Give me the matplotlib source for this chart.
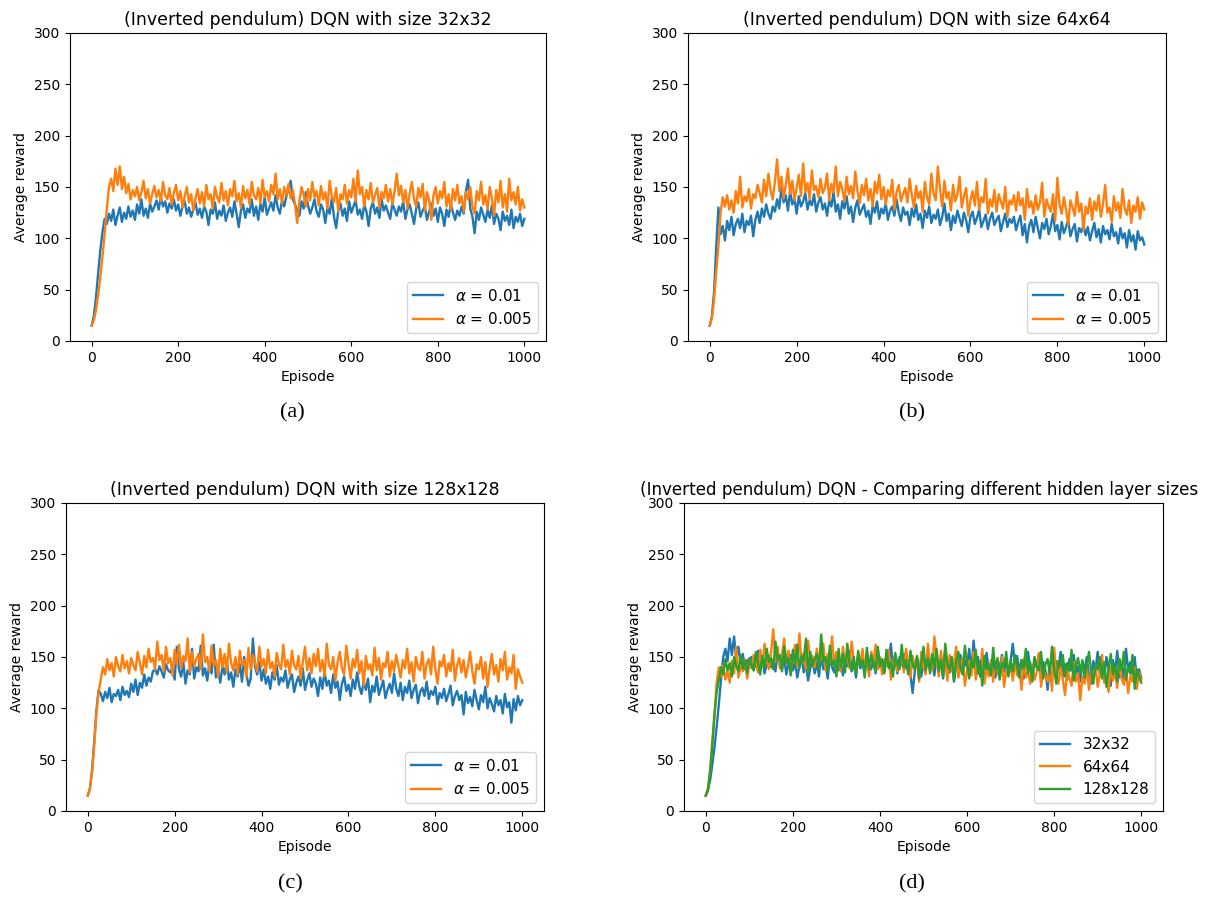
import matplotlib
matplotlib.use("Agg")
import matplotlib.pyplot as plt
import numpy as np

# Average reward every 5 episodes

# 32x32, alpha = 0.01
a_blue = [15, 24, 42, 66, 88, 106, 119,
          114, 124, 117, 128, 113, 122, 130, 116, 125, 119, 131, 121, 127, 118,
          133, 124, 138, 122, 129, 120, 134, 126, 131, 137,
          128, 140, 131, 136, 125, 134, 129, 138, 127, 133, 122, 131, 136, 124, 130, 121, 128, 135, 123, 129,
          120, 131, 126, 113, 128, 124, 135, 119, 127, 122, 132, 117, 125, 130, 121, 136, 124, 111, 127, 133,
          120, 129, 125, 138, 122, 131, 118, 134, 126, 140, 123, 129, 135, 127, 142, 130, 124, 137, 131, 141,
          148, 156, 138, 133, 127, 122, 136, 129, 145, 132, 124, 130, 138, 126,
          121, 133, 128, 115, 130, 124, 139, 121, 110, 127, 134, 122, 129, 117, 136, 125, 131, 137,
          123, 128, 119, 133, 126, 112, 129, 135, 124, 130, 120, 138, 127, 132, 125, 119, 134, 128,
          122, 131, 126, 136, 119, 128, 133, 124, 114, 129, 135, 121, 127, 131, 118, 126,
          134, 122, 129, 116, 130, 124, 112, 128, 121, 133, 125, 118, 127, 122, 131, 124,
          146, 157, 129, 121, 105, 126, 118, 130, 123, 116, 128, 120, 132, 114,
          124, 119, 108, 126, 117, 122, 113, 128, 110, 121, 116, 124, 112, 119]

# 32x32, alpha = 0.005
a_orange = [15, 20, 30, 45, 62, 82, 104,
            128, 150, 158, 146, 168, 152, 170, 148, 160, 144, 153, 138, 147, 141,
            150, 137, 145, 156, 139, 148, 134, 143, 151, 140,
            147, 136, 155, 142, 138, 149, 133, 144, 152, 137, 146, 130, 141, 150, 135, 143, 127, 139, 148, 134,
            145, 131, 152, 138, 143, 129, 150, 140, 135, 154, 137, 146, 132, 148, 141, 156, 136, 144, 130, 151,
            139, 147, 133, 155, 142, 138, 149, 134, 157, 140, 146, 136, 152, 143, 163, 138, 148, 134, 150, 142,
            153, 139, 147, 133, 115, 136, 150, 142, 131, 148, 137, 155, 140, 146,
            132, 151, 138, 145, 129, 156, 141, 135, 149, 126, 143, 138, 152, 134, 147, 140, 158, 136,
            166, 143, 150, 131, 147, 138, 154, 135, 142, 149, 130, 145, 139, 152, 136, 148, 133, 146,
            163, 142, 151, 135, 147, 129, 144, 155, 138, 131, 149, 140, 153, 127, 145, 137,
            118, 142, 150, 134, 146, 139, 155, 131, 143, 128, 148, 137, 152, 134, 141, 126,
            145, 138, 150, 131, 124, 146, 137, 155, 133, 142, 128, 150, 139, 122,
            147, 135, 156, 130, 143, 126, 158, 137, 145, 133, 150, 127, 138, 130]

# 64x64, alpha = 0.01
b_blue = [15, 24, 48, 92, 130, 104, 112,
          98, 117, 108, 121, 103, 114, 119, 110, 124, 106, 117, 113, 122, 102,
          118, 126, 115, 129, 121, 133, 124, 119, 131, 126,
          138, 129, 150, 135, 142, 127, 146, 133, 139, 124, 141, 131, 136, 144, 128, 137, 132, 143, 126, 135,
          140, 128, 134, 122, 137, 131, 145, 126, 133, 119, 136, 129, 141, 124, 131, 116, 130, 137, 123, 128,
          133, 121, 127, 114, 132, 125, 136, 119, 129, 124, 134, 118, 127, 131, 122, 138, 125, 117, 130, 123,
          126, 113, 129, 121, 133, 118, 124, 110, 127, 120, 131, 115, 123, 119,
          128, 113, 121, 134, 117, 124, 108, 122, 115, 127, 119, 112, 125, 118, 106, 121, 126, 114,
          120, 128, 111, 117, 123, 109, 119, 125, 113, 118, 122, 107, 116, 124, 111, 119, 115, 121,
          108, 116, 122, 103, 114, 96, 112, 118, 106, 121, 110, 100, 115, 109, 119, 104,
          112, 124, 107, 113, 99, 116, 105, 111, 118, 102, 109, 114, 97, 110, 106, 113,
          103, 111, 98, 107, 115, 101, 109, 96, 112, 104, 108, 99, 114, 102,
          106, 95, 110, 100, 105, 91, 108, 97, 103, 89, 107, 98, 101, 94]

# 64x64, alpha = 0.005
b_orange = [15, 22, 40, 68, 92, 125, 140,
            131, 142, 128, 137, 125, 146, 134, 160, 130, 141, 136, 148, 129, 143,
            139, 152, 144, 135, 157, 141, 163, 147, 138, 155,
            177, 146, 160, 139, 152, 168, 143, 156, 137, 149, 162, 141, 173, 145, 154, 138, 166, 147, 151, 140,
            158, 144, 149, 163, 137, 153, 145, 170, 141, 155, 148, 136, 160, 143, 151, 139, 165, 146, 134, 152,
            142, 158, 137, 148, 131, 155, 144, 162, 138, 150, 133, 147, 141, 157, 128, 145, 152, 136, 143, 149,
            135, 158, 142, 130, 151, 139, 146, 126, 155, 140, 133, 163, 144, 137,
            170, 148, 131, 156, 139, 145, 127, 152, 136, 143, 160, 130, 141, 149, 122, 137, 146, 132,
            155, 128, 140, 135, 158, 124, 138, 131, 147, 126, 143, 136, 129, 150, 121, 137, 133, 142,
            127, 145, 132, 139, 118, 148, 130, 136, 124, 142, 128, 135, 154, 121, 138, 131,
            126, 143, 117, 159, 133, 124, 140, 128, 113, 137, 130, 122, 145, 126, 134, 108,
            131, 124, 139, 118, 136, 127, 142, 121, 133, 152, 125, 130, 116, 141,
            127, 135, 120, 148, 129, 123, 137, 115, 132, 126, 140, 119, 135, 128]

# 128x128, alpha = 0.01
c_blue = [15, 22, 40, 68, 98, 118, 114,
          107, 116, 110, 120, 106, 114, 112, 118, 108, 121, 113, 117, 111, 124,
          116, 128, 113, 125, 120, 133, 122, 130, 126, 136,
          138, 133, 141, 136, 130, 143, 137, 135, 140, 128, 160, 138, 131, 145, 124, 137, 133, 158, 129, 140,
          136, 161, 132, 139, 127, 144, 134, 162, 130, 137, 125, 141, 133, 146, 128, 135, 121, 138, 131, 143,
          126, 150, 134, 122, 129, 168, 140, 133, 145, 127, 138, 124, 131, 119, 135, 128, 142, 123, 130, 126,
          137, 120, 128, 133, 116, 125, 131, 122, 139, 118, 127, 134, 121, 129,
          124, 112, 130, 119, 136, 122, 127, 115, 133, 120, 126, 108, 124, 131, 117, 123, 112, 128,
          119, 135, 121, 114, 126, 118, 129, 106, 122, 116, 131, 113, 120, 127, 110, 118, 124, 115,
          134, 119, 112, 125, 108, 121, 115, 127, 110, 118, 123, 105, 116, 120, 112, 126,
          109, 117, 113, 121, 104, 115, 110, 119, 107, 114, 122, 103, 112, 117, 108, 113,
          94, 116, 105, 111, 102, 118, 108, 99, 113, 106, 121, 100, 110, 104,
          97, 112, 103, 108, 95, 114, 101, 106, 86, 109, 98, 112, 103, 108]

# 128x128, alpha = 0.005
c_orange = [15, 21, 38, 64, 95, 116, 128,
            140, 133, 148, 137, 144, 131, 150, 141, 136, 152, 139, 146, 134, 149,
            142, 137, 155, 144, 133, 151, 140, 158, 145, 149,
            138, 165, 147, 152, 136, 160, 144, 149, 132, 157, 143, 162, 139, 151, 146, 168, 135, 155, 141, 148,
            153, 138, 172, 145, 150, 136, 161, 142, 147, 131, 158, 140, 153, 135, 163, 144, 137, 150, 133, 156,
            142, 147, 130, 159, 138, 152, 144, 136, 160, 141, 148, 134, 157, 139, 145, 131, 154, 143, 138, 162,
            140, 147, 133, 156, 142, 138, 151, 129, 145, 160, 137, 149, 134, 153,
            141, 158, 136, 147, 131, 163, 142, 138, 150, 127, 145, 155, 139, 133, 161, 144, 129, 148,
            140, 157, 134, 146, 122, 151, 138, 143, 132, 159, 137, 149, 128, 144, 140, 155, 131, 146,
            136, 152, 141, 130, 147, 139, 158, 134, 145, 126, 150, 140, 137, 155, 129, 143,
            148, 133, 160, 138, 124, 146, 141, 152, 131, 144, 136, 157, 127, 142, 149, 135,
            147, 130, 141, 155, 136, 124, 143, 138, 150, 129, 145, 121, 139, 153,
            133, 142, 126, 148, 137, 155, 128, 140, 134, 152, 119, 138, 131, 125]

sizes = ["32x32", "64x64", "128x128"]
alpha_labels = [r"$\alpha$ = 0.01", r"$\alpha$ = 0.005"]
captions = ["(a)", "(b)", "(c)", "(d)"]


def episodes(values):
    return np.arange(len(values)) * 5


fig = plt.figure(figsize=(12.13, 8.99), dpi=100)
W, H = 1213, 899


def make_axes(left, top, width, height=308):
    return fig.add_axes([left / W, (H - top - height) / H, width / W, height / H])


ax_a = make_axes(70, 33, 476)
ax_b = make_axes(688, 33, 478)
ax_c = make_axes(66, 503, 478)
ax_d = make_axes(684, 503, 479)

lw = 1.7
pairs = [(a_blue, a_orange), (b_blue, b_orange), (c_blue, c_orange)]
for ax, (blue, orange), size in zip([ax_a, ax_b, ax_c], pairs, sizes):
    ax.plot(episodes(blue), blue, color="C0", lw=lw, label=alpha_labels[0])
    ax.plot(episodes(orange), orange, color="C1", lw=lw, label=alpha_labels[1])
    ax.set_title(f"(Inverted pendulum) DQN with size {size}", fontsize=12.5)
    ax.legend(loc="lower right", fontsize=11)

# (d) compares the alpha = 0.005 runs
for series, size, col in zip([a_orange, b_orange, c_orange], sizes, ["C0", "C1", "C2"]):
    ax_d.plot(episodes(series), series, color=col, lw=lw, label=size)
ax_d.set_title("(Inverted pendulum) DQN - Comparing different hidden layer sizes",
               fontsize=12.1, x=0.49)
ax_d.legend(loc="lower right", fontsize=11)

for ax in [ax_a, ax_b, ax_c, ax_d]:
    ax.set_ylim(0, 300)
    ax.set_xlabel("Episode", fontsize=10)
    ax.set_ylabel("Average reward", fontsize=10)
    ax.tick_params(labelsize=10)

cap_pos = [(292, 413), (912, 413), (290, 884), (912, 884)]
for (cx, cy), cap in zip(cap_pos, captions):
    fig.text(cx / W, 1 - cy / H, cap, ha="center", va="center",
             fontsize=16, family="Liberation Serif")

fig.savefig("out.png", dpi=100)
